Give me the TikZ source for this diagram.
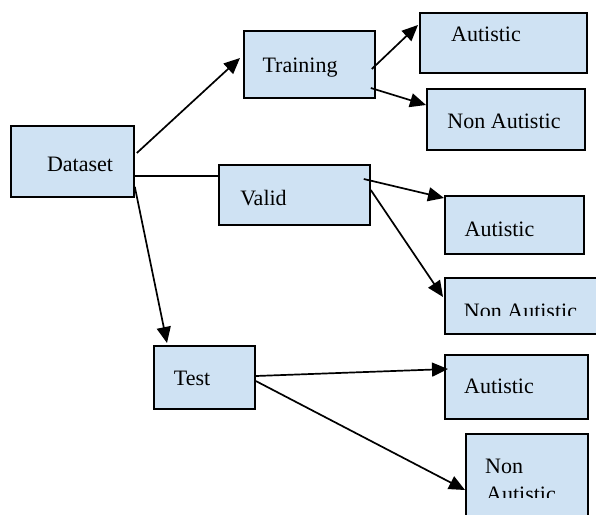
\documentclass[tikz,border=0pt]{standalone}
\usepackage{fontspec}
\setmainfont{Liberation Serif}
\usetikzlibrary{arrows.meta,calc}
\definecolor{boxfill}{RGB}{207,226,243}
\tikzset{
  box/.style={draw=black, fill=boxfill, line width=1.8pt, rectangle, inner sep=0pt, anchor=north west},
  lbl/.style={inner sep=0pt, font=\fontsize{22}{26}\selectfont},
  conn/.style={draw=black, line width=1.7pt},
  arr/.style={conn, -{Triangle[length=16pt,width=14pt]}}
}
\begin{document}
\begin{tikzpicture}[x=1pt,y=-1pt]
\clip (0,0) rectangle (596,514);
\fill[white] (0,0) rectangle (596,514);
% boxes
\node[box, minimum width=123pt, minimum height=71pt] (dataset) at (10,125) {};
\node[box, minimum width=131pt, minimum height=67pt] (train) at (243,30) {};
\node[box, minimum width=167pt, minimum height=60pt] (aut1) at (419,12) {};
\node[box, minimum width=158pt, minimum height=61pt] (naut1) at (426,88) {};
\node[box, minimum width=151pt, minimum height=60pt] (valid) at (218,164) {};
\node[box, minimum width=139pt, minimum height=58pt] (aut2) at (444,195) {};
\node[box, minimum width=170pt, minimum height=56pt] (naut2) at (444,277) {};
\node[box, minimum width=101pt, minimum height=63pt] (test) at (153,345) {};
\node[box, minimum width=143pt, minimum height=64pt] (aut3) at (444,354) {};
\node[box, minimum width=122pt, minimum height=100pt] (naut3) at (465,433) {};
% labels
\node[lbl, anchor=base] (tdataset) at (80,171) {Dataset};
\node[lbl, anchor=base] (ttrain) at (300,72) {Training};
\node[lbl, anchor=base] (taut1) at (486,41) {Autistic};
\node[lbl, anchor=base] (tnaut1) at (504,128) {Non Autistic};
\node[lbl, anchor=base] (tvalid) at (263.5,205) {Valid};
\node[lbl, anchor=base] (taut2) at (499.5,236) {Autistic};
\begin{scope}
\clip (444,277) rectangle (596,315);
\node[lbl, anchor=base] (tnaut2) at (520.5,318) {Non Autistic};
\end{scope}
\node[lbl, anchor=base] (ttest) at (192,385) {Test};
\node[lbl, anchor=base] (taut3) at (499,393) {Autistic};
\begin{scope}
\clip (465,433) rectangle (596,497);
\node[lbl, anchor=base west] (tnaut3a) at (485,473) {Non};
\node[lbl, anchor=base west] (tnaut3b) at (486,501) {Autistic};
\end{scope}
% connectors
\draw[arr] ($(dataset.north east)+(2,28)$) -- ($(train.north west)+(-3,28)$);
\draw[conn] ($(dataset.north east)+(0,51)$) -- ($(valid.north west)+(0,12)$);
\draw[arr] ($(dataset.south east)+(0,-11)$) -- ($(test.north west)+(14,-2)$);
\draw[arr] ($(train.north east)+(-4,39)$) -- ($(aut1.north west)+(-1,13)$);
\draw[arr] ($(train.north east)+(-5,58)$) -- ($(naut1.north west)+(0,17)$);
\draw[arr] ($(valid.north east)+(-7,15)$) -- ($(aut2.north west)+(0,3)$);
\draw[arr] ($(valid.north east)+(0,26)$) -- ($(naut2.north west)+(-1,20)$);
\draw[arr] ($(test.north east)+(0,31)$) -- ($(aut3.north west)+(4,15)$);
\draw[arr] ($(test.north east)+(0,36)$) -- ($(naut3.north west)+(0,57)$);
\end{tikzpicture}
\end{document}
